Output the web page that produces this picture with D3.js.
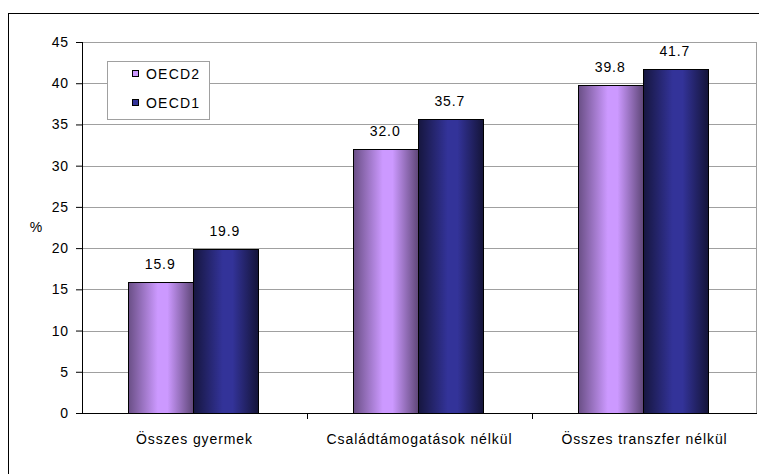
<!DOCTYPE html>
<html>
<head>
<meta charset="utf-8">
<script src="https://cdn.jsdelivr.net/npm/d3@7"></script>
<style>
  body { margin: 0; background: #fff; }
  text { font-family: "Liberation Sans", Arial, sans-serif; fill: #000; }
</style>
</head>
<body>
<div id="chart"></div>
<script>
const categories = ["Összes gyermek", "Családtámogatások nélkül", "Összes transzfer nélkül"];
const series_names = ["OECD2", "OECD1"];
const oecd2_values = [15.9, 32.0, 39.8];
const oecd1_values = [19.9, 35.7, 41.7];
const y_ticks = [0, 5, 10, 15, 20, 25, 30, 35, 40, 45];

let graph_config = {
  width: 759,
  height: 474,
  margin: { left: 82, right: 2, top: 42, bottom: 61 }
};
let plot_w = graph_config.width - graph_config.margin.left - graph_config.margin.right;
let plot_h = graph_config.height - graph_config.margin.top - graph_config.margin.bottom;
let font_size = 14;
let spacing = "0.9px";

let svg = d3.select("#chart").append("svg")
  .attr("width", graph_config.width)
  .attr("height", graph_config.height);

// gradients for the bars, dark edges and light middle
let defs = svg.append("defs");
let gradient_stops = [
  { id: "grad_oecd2", edge: "#6a4f86", mid: "#cc99ff", end: "#5e4677" },
  { id: "grad_oecd1", edge: "#16163f", mid: "#333399", end: "#141438" }
];
gradient_stops.forEach(g => {
  let lg = defs.append("linearGradient").attr("id", g.id)
    .attr("x1", "0%").attr("x2", "100%").attr("y1", "0%").attr("y2", "0%");
  lg.append("stop").attr("offset", "0%").attr("stop-color", g.edge);
  lg.append("stop").attr("offset", "45%").attr("stop-color", g.mid);
  lg.append("stop").attr("offset", "60%").attr("stop-color", g.mid);
  lg.append("stop").attr("offset", "100%").attr("stop-color", g.end);
});

// outer chart border
svg.append("rect")
  .attr("x", 8.5).attr("y", 13.5)
  .attr("width", 800).attr("height", 500)
  .attr("fill", "none").attr("stroke", "#000").attr("stroke-width", 1);

let g = svg.append("g")
  .attr("transform", "translate(" + graph_config.margin.left + "," + graph_config.margin.top + ")");

let y_scale = d3.scaleLinear().domain([0, 45]).range([plot_h, 0]);
let x_scale = d3.scaleBand().domain(categories).range([0, plot_w]);
let inner = d3.scaleBand().domain(series_names).range([0, x_scale.bandwidth()]).paddingOuter(0.74);

// gridlines
g.selectAll(".grid").data(y_ticks.filter(t => t > 0)).enter().append("line")
  .attr("class", "grid")
  .attr("x1", 0).attr("x2", plot_w)
  .attr("y1", d => Math.round(y_scale(d)) + 0.5)
  .attr("y2", d => Math.round(y_scale(d)) + 0.5)
  .attr("stroke", "#a0a0a0").attr("stroke-width", 1);

// right border of plot area
g.append("line")
  .attr("x1", plot_w - 0.5).attr("x2", plot_w - 0.5)
  .attr("y1", 0).attr("y2", plot_h)
  .attr("stroke", "#a0a0a0");

// bars
let data = categories.map((c, i) => ({
  category: c,
  values: [
    { name: "OECD2", value: oecd2_values[i], fill: "url(#grad_oecd2)" },
    { name: "OECD1", value: oecd1_values[i], fill: "url(#grad_oecd1)" }
  ]
}));

let groups = g.selectAll(".group").data(data).enter().append("g")
  .attr("class", "group")
  .attr("transform", d => "translate(" + Math.round(x_scale(d.category)) + ",0)");

groups.selectAll("rect").data(d => d.values).enter().append("rect")
  .attr("x", d => Math.round(inner(d.name)) - 1.5)
  .attr("width", Math.round(inner.bandwidth()))
  .attr("y", d => Math.round(y_scale(d.value)) + 0.5)
  .attr("height", d => plot_h - Math.round(y_scale(d.value)))
  .attr("fill", d => d.fill)
  .attr("stroke", "#000").attr("stroke-width", 1);

groups.selectAll(".val").data(d => d.values).enter().append("text")
  .attr("class", "val")
  .attr("x", d => inner(d.name) + inner.bandwidth() / 2 - 2)
  .attr("y", d => y_scale(d.value) - 13)
  .attr("text-anchor", "middle")
  .attr("font-size", font_size)
  .attr("letter-spacing", spacing)
  .text(d => d.value.toFixed(1));

// y axis
let y_axis = g.append("g").call(d3.axisLeft(y_scale).tickValues(y_ticks).tickSize(6).tickPadding(7));
y_axis.select(".domain").attr("stroke", "#000").attr("d", "M0.5,0V" + plot_h);
y_axis.selectAll(".tick line").attr("stroke", "#000");
y_axis.selectAll("text")
  .attr("font-size", font_size)
  .attr("letter-spacing", spacing)
  .attr("font-family", "Liberation Sans, Arial, sans-serif");

// x axis
let x_axis = g.append("g").attr("transform", "translate(0," + plot_h + ")");
x_axis.append("line").attr("x1", 0).attr("x2", plot_w).attr("y1", 0.5).attr("y2", 0.5).attr("stroke", "#000");
x_axis.selectAll(".xtick").data(categories.slice(1)).enter().append("line")
  .attr("x1", d => Math.round(x_scale(d)) + 0.5).attr("x2", d => Math.round(x_scale(d)) + 0.5)
  .attr("y1", 0).attr("y2", 6).attr("stroke", "#000");
x_axis.selectAll(".xlab").data(categories).enter().append("text")
  .attr("x", d => x_scale(d) + x_scale.bandwidth() / 2)
  .attr("y", 31)
  .attr("text-anchor", "middle")
  .attr("font-size", font_size)
  .attr("letter-spacing", spacing)
  .text(d => d);

// y axis title
svg.append("text")
  .attr("x", 36).attr("y", 232)
  .attr("text-anchor", "middle")
  .attr("font-size", font_size)
  .text("%");

// legend
let legend = svg.append("g").attr("transform", "translate(107,61)");
legend.append("rect")
  .attr("x", 0.5).attr("y", 0.5).attr("width", 102).attr("height", 58)
  .attr("fill", "#fff").attr("stroke", "#a0a0a0");
let legend_fills = ["#cc99ff", "#333399"];
series_names.forEach((name, i) => {
  let row = legend.append("g").attr("transform", "translate(25," + (9 + i * 29) + ")");
  row.append("rect").attr("x", 0.5).attr("y", 0.5).attr("width", 6).attr("height", 6)
    .attr("fill", legend_fills[i]).attr("stroke", "#000");
  row.append("text").attr("x", 14).attr("y", 9).attr("font-size", font_size)
    .attr("letter-spacing", "1.2px").text(name);
});
</script>
</body>
</html>
